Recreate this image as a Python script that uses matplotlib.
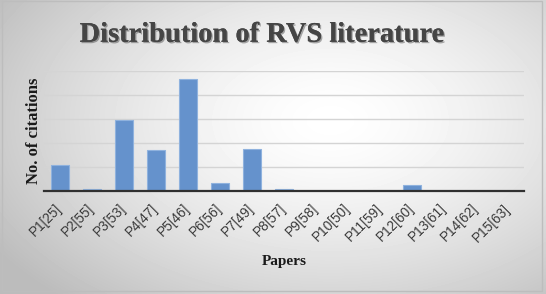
import matplotlib.pyplot as plt
import matplotlib.patheffects as pe
import numpy as np

# Data (y axis has no tick labels, one grid step = 10)
papers = ['P1[25]', 'P2[55]', 'P3[53]', 'P4[47]', 'P5[46]', 'P6[56]', 'P7[49]',
          'P8[57]', 'P9[58]', 'P10[50]', 'P11[59]', 'P12[60]', 'P13[61]',
          'P14[62]', 'P15[63]']
citations = [11, 0.8, 29.6, 17.1, 46.5, 3.2, 17.5, 1.0, 0, 0, 0, 2.4, 0, 0, 0]
grid_ticks = [0, 10, 20, 30, 40, 50]

fig = plt.figure(figsize=(5.46, 2.94), dpi=100)

# Radial gray-to-white background
bg = fig.add_axes([0, 0, 1, 1], zorder=-10)
yy, xx = np.mgrid[0:294, 0:546]
r = np.sqrt(((xx - 330) / 330.0) ** 2 + ((yy - 120) / 200.0) ** 2)
shade = 1.0 - 0.2 * np.clip(r, 0, 1.2) ** 1.5
bg.imshow(shade, cmap='gray', vmin=0, vmax=1, aspect='auto',
          extent=[0, 1, 0, 1], interpolation='bilinear')
bg.add_patch(plt.Rectangle((0.004, 0.01), 0.988, 0.985, fill=False,
                           edgecolor='#bdbdbd', lw=1.0, transform=bg.transAxes))
bg.set_xlim(0, 1)
bg.set_ylim(0, 1)
bg.axis('off')

ax = fig.add_axes([0.0806, 0.350, 0.879, 0.4085])
ax.patch.set_alpha(0)

x = np.arange(len(papers))
ax.bar(x, citations, width=0.58, color='#6592cc', edgecolor='#8fb2de',
       linewidth=0.8, zorder=3)

ax.set_xlim(-0.5, len(papers) - 0.5)
ax.set_ylim(0, 50)
ax.set_yticks(grid_ticks)
ax.set_yticklabels([])
ax.tick_params(axis='y', length=0)
ax.grid(axis='y', color='#d4d4d4', linewidth=1.0, zorder=0)
ax.set_axisbelow(True)

for s in ['top', 'right', 'left']:
    ax.spines[s].set_visible(False)
ax.spines['bottom'].set_color('#303030')
ax.spines['bottom'].set_linewidth(1.6)
ax.spines['bottom'].set_zorder(4)

ax.set_xticks(x)
ax.set_xticklabels(papers, rotation=45, ha='right', va='center',
                   rotation_mode='anchor', fontsize=9.8, color='#3a3a3a',
                   family='Liberation Sans')
ax.tick_params(axis='x', length=0, pad=11)

ax.set_ylabel('No. of citations', family='Liberation Serif', fontweight='bold',
              fontsize=12, color='#1a1a1a', va='center')
ax.yaxis.set_label_coords(-0.021, 0.5)
ax.set_xlabel('Papers', family='Liberation Serif', fontweight='bold',
              fontsize=11, color='#1a1a1a', va='center')
ax.xaxis.set_label_coords(0.5, -0.59)

fig.text(0.48, 0.88, 'Distribution of RVS literature', ha='center', va='center',
         family='Liberation Serif', fontweight='bold', fontsize=20.5,
         color='#454545',
         path_effects=[pe.withSimplePatchShadow(offset=(1, -1), alpha=0.35),
                       pe.Normal()])

fig.savefig('out.png', dpi=100)
